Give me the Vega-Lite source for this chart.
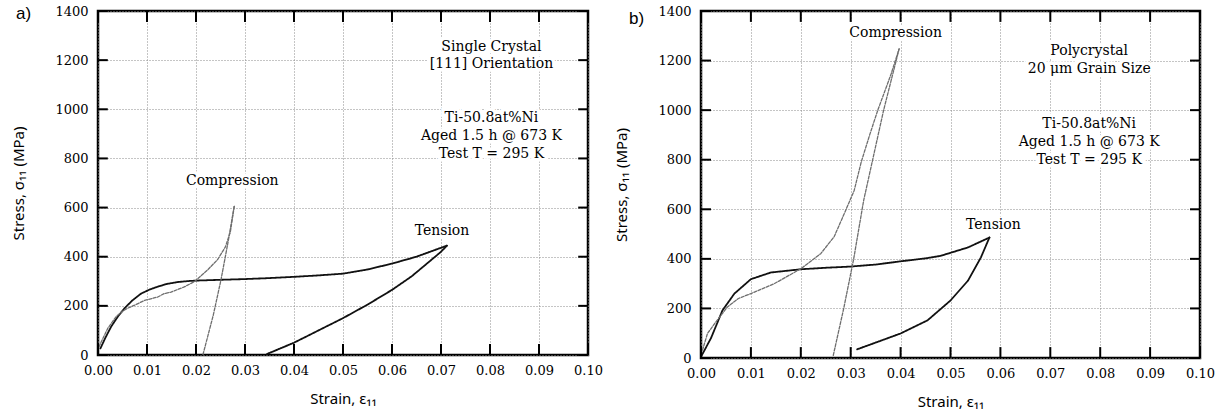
{
  "$schema": "https://vega.github.io/schema/vega-lite/v6.json",
  "background": "white",
  "padding": {"left": 10, "top": 3, "right": 0, "bottom": 0},
  "bounds": "flush",
  "spacing": 113,
  "config": {
    "view": {"stroke": "black", "strokeWidth": 2.5},
    "axis": {
      "labelFont": "DejaVu Serif", "labelFontSize": 13, "labelColor": "black", "labelFlush": false,
      "titleFont": "Noto Sans", "titleFontSize": 15, "titleFontWeight": "normal", "titleColor": "black",
      "ticks": false, "domain": false,
      "gridColor": "#8a8a8a", "gridDash": [1, 2], "gridWidth": 1, "gridOpacity": 1
    },
    "text": {"font": "DejaVu Serif", "fontSize": 14, "color": "black"},
    "rule": {"color": "black", "strokeWidth": 2}
  },
  "datasets": {
    "xticks": [{"v": 0}, {"v": 0.01}, {"v": 0.02}, {"v": 0.03}, {"v": 0.04}, {"v": 0.05}, {"v": 0.06}, {"v": 0.07}, {"v": 0.08}, {"v": 0.09}, {"v": 0.1}],
    "yticks": [{"v": 0}, {"v": 200}, {"v": 400}, {"v": 600}, {"v": 800}, {"v": 1000}, {"v": 1200}, {"v": 1400}],
    "curves": [
      {"panel": "a", "test": "Tension", "seg": "a-T-load", "i": 1, "strain": 0.0005, "stress": 27},
      {"panel": "a", "test": "Tension", "seg": "a-T-load", "i": 2, "strain": 0.0015, "stress": 70},
      {"panel": "a", "test": "Tension", "seg": "a-T-load", "i": 3, "strain": 0.0027, "stress": 116},
      {"panel": "a", "test": "Tension", "seg": "a-T-load", "i": 4, "strain": 0.004, "stress": 155},
      {"panel": "a", "test": "Tension", "seg": "a-T-load", "i": 5, "strain": 0.0054, "stress": 190},
      {"panel": "a", "test": "Tension", "seg": "a-T-load", "i": 6, "strain": 0.007, "stress": 222},
      {"panel": "a", "test": "Tension", "seg": "a-T-load", "i": 7, "strain": 0.0088, "stress": 250},
      {"panel": "a", "test": "Tension", "seg": "a-T-load", "i": 8, "strain": 0.0105, "stress": 266},
      {"panel": "a", "test": "Tension", "seg": "a-T-load", "i": 9, "strain": 0.0122, "stress": 278},
      {"panel": "a", "test": "Tension", "seg": "a-T-load", "i": 10, "strain": 0.014, "stress": 289},
      {"panel": "a", "test": "Tension", "seg": "a-T-load", "i": 11, "strain": 0.0163, "stress": 297},
      {"panel": "a", "test": "Tension", "seg": "a-T-load", "i": 12, "strain": 0.0185, "stress": 301},
      {"panel": "a", "test": "Tension", "seg": "a-T-load", "i": 13, "strain": 0.0203, "stress": 303},
      {"panel": "a", "test": "Tension", "seg": "a-T-load", "i": 14, "strain": 0.025, "stress": 306},
      {"panel": "a", "test": "Tension", "seg": "a-T-load", "i": 15, "strain": 0.03, "stress": 309},
      {"panel": "a", "test": "Tension", "seg": "a-T-load", "i": 16, "strain": 0.035, "stress": 313},
      {"panel": "a", "test": "Tension", "seg": "a-T-load", "i": 17, "strain": 0.04, "stress": 318},
      {"panel": "a", "test": "Tension", "seg": "a-T-load", "i": 18, "strain": 0.045, "stress": 324},
      {"panel": "a", "test": "Tension", "seg": "a-T-load", "i": 19, "strain": 0.05, "stress": 331},
      {"panel": "a", "test": "Tension", "seg": "a-T-load", "i": 20, "strain": 0.055, "stress": 348},
      {"panel": "a", "test": "Tension", "seg": "a-T-load", "i": 21, "strain": 0.06, "stress": 372},
      {"panel": "a", "test": "Tension", "seg": "a-T-load", "i": 22, "strain": 0.065, "stress": 400},
      {"panel": "a", "test": "Tension", "seg": "a-T-load", "i": 23, "strain": 0.0712, "stress": 445},
      {"panel": "a", "test": "Tension", "seg": "a-T-unload", "i": 1, "strain": 0.0712, "stress": 445},
      {"panel": "a", "test": "Tension", "seg": "a-T-unload", "i": 2, "strain": 0.07, "stress": 420},
      {"panel": "a", "test": "Tension", "seg": "a-T-unload", "i": 3, "strain": 0.067, "stress": 370},
      {"panel": "a", "test": "Tension", "seg": "a-T-unload", "i": 4, "strain": 0.064, "stress": 320},
      {"panel": "a", "test": "Tension", "seg": "a-T-unload", "i": 5, "strain": 0.06, "stress": 265},
      {"panel": "a", "test": "Tension", "seg": "a-T-unload", "i": 6, "strain": 0.055, "stress": 205},
      {"panel": "a", "test": "Tension", "seg": "a-T-unload", "i": 7, "strain": 0.05, "stress": 150},
      {"panel": "a", "test": "Tension", "seg": "a-T-unload", "i": 8, "strain": 0.045, "stress": 100},
      {"panel": "a", "test": "Tension", "seg": "a-T-unload", "i": 9, "strain": 0.04, "stress": 50},
      {"panel": "a", "test": "Tension", "seg": "a-T-unload", "i": 10, "strain": 0.0345, "stress": 4},
      {"panel": "a", "test": "Compression", "seg": "a-C-load", "i": 1, "strain": 0.0002, "stress": 34},
      {"panel": "a", "test": "Compression", "seg": "a-C-load", "i": 2, "strain": 0.002, "stress": 109},
      {"panel": "a", "test": "Compression", "seg": "a-C-load", "i": 3, "strain": 0.0037, "stress": 156},
      {"panel": "a", "test": "Compression", "seg": "a-C-load", "i": 4, "strain": 0.005, "stress": 178},
      {"panel": "a", "test": "Compression", "seg": "a-C-load", "i": 5, "strain": 0.006, "stress": 190},
      {"panel": "a", "test": "Compression", "seg": "a-C-load", "i": 6, "strain": 0.0075, "stress": 203},
      {"panel": "a", "test": "Compression", "seg": "a-C-load", "i": 7, "strain": 0.0095, "stress": 222},
      {"panel": "a", "test": "Compression", "seg": "a-C-load", "i": 8, "strain": 0.0122, "stress": 236},
      {"panel": "a", "test": "Compression", "seg": "a-C-load", "i": 9, "strain": 0.0135, "stress": 250},
      {"panel": "a", "test": "Compression", "seg": "a-C-load", "i": 10, "strain": 0.0149, "stress": 256},
      {"panel": "a", "test": "Compression", "seg": "a-C-load", "i": 11, "strain": 0.0176, "stress": 277},
      {"panel": "a", "test": "Compression", "seg": "a-C-load", "i": 12, "strain": 0.0197, "stress": 299},
      {"panel": "a", "test": "Compression", "seg": "a-C-load", "i": 13, "strain": 0.0224, "stress": 347},
      {"panel": "a", "test": "Compression", "seg": "a-C-load", "i": 14, "strain": 0.0244, "stress": 388},
      {"panel": "a", "test": "Compression", "seg": "a-C-load", "i": 15, "strain": 0.026, "stress": 440},
      {"panel": "a", "test": "Compression", "seg": "a-C-load", "i": 16, "strain": 0.027, "stress": 500},
      {"panel": "a", "test": "Compression", "seg": "a-C-load", "i": 17, "strain": 0.0278, "stress": 605},
      {"panel": "a", "test": "Compression", "seg": "a-C-unload", "i": 1, "strain": 0.0278, "stress": 605},
      {"panel": "a", "test": "Compression", "seg": "a-C-unload", "i": 2, "strain": 0.0265, "stress": 455},
      {"panel": "a", "test": "Compression", "seg": "a-C-unload", "i": 3, "strain": 0.0251, "stress": 306},
      {"panel": "a", "test": "Compression", "seg": "a-C-unload", "i": 4, "strain": 0.0235, "stress": 160},
      {"panel": "a", "test": "Compression", "seg": "a-C-unload", "i": 5, "strain": 0.0214, "stress": 0},
      {"panel": "b", "test": "Tension", "seg": "b-T-load", "i": 1, "strain": 0.0, "stress": 5},
      {"panel": "b", "test": "Tension", "seg": "b-T-load", "i": 2, "strain": 0.002, "stress": 80},
      {"panel": "b", "test": "Tension", "seg": "b-T-load", "i": 3, "strain": 0.0043, "stress": 192},
      {"panel": "b", "test": "Tension", "seg": "b-T-load", "i": 4, "strain": 0.0067, "stress": 260},
      {"panel": "b", "test": "Tension", "seg": "b-T-load", "i": 5, "strain": 0.01, "stress": 318},
      {"panel": "b", "test": "Tension", "seg": "b-T-load", "i": 6, "strain": 0.014, "stress": 345},
      {"panel": "b", "test": "Tension", "seg": "b-T-load", "i": 7, "strain": 0.02, "stress": 358},
      {"panel": "b", "test": "Tension", "seg": "b-T-load", "i": 8, "strain": 0.025, "stress": 364},
      {"panel": "b", "test": "Tension", "seg": "b-T-load", "i": 9, "strain": 0.03, "stress": 369},
      {"panel": "b", "test": "Tension", "seg": "b-T-load", "i": 10, "strain": 0.035, "stress": 377},
      {"panel": "b", "test": "Tension", "seg": "b-T-load", "i": 11, "strain": 0.04, "stress": 390},
      {"panel": "b", "test": "Tension", "seg": "b-T-load", "i": 12, "strain": 0.045, "stress": 402},
      {"panel": "b", "test": "Tension", "seg": "b-T-load", "i": 13, "strain": 0.048, "stress": 412},
      {"panel": "b", "test": "Tension", "seg": "b-T-load", "i": 14, "strain": 0.0535, "stress": 446},
      {"panel": "b", "test": "Tension", "seg": "b-T-load", "i": 15, "strain": 0.0578, "stress": 486},
      {"panel": "b", "test": "Tension", "seg": "b-T-unload", "i": 1, "strain": 0.0578, "stress": 486},
      {"panel": "b", "test": "Tension", "seg": "b-T-unload", "i": 2, "strain": 0.0561, "stress": 406},
      {"panel": "b", "test": "Tension", "seg": "b-T-unload", "i": 3, "strain": 0.0535, "stress": 312},
      {"panel": "b", "test": "Tension", "seg": "b-T-unload", "i": 4, "strain": 0.05, "stress": 232},
      {"panel": "b", "test": "Tension", "seg": "b-T-unload", "i": 5, "strain": 0.0454, "stress": 152},
      {"panel": "b", "test": "Tension", "seg": "b-T-unload", "i": 6, "strain": 0.04, "stress": 99},
      {"panel": "b", "test": "Tension", "seg": "b-T-unload", "i": 7, "strain": 0.0354, "stress": 65},
      {"panel": "b", "test": "Tension", "seg": "b-T-unload", "i": 8, "strain": 0.0313, "stress": 35},
      {"panel": "b", "test": "Compression", "seg": "b-C-load", "i": 1, "strain": 0.0003, "stress": 32},
      {"panel": "b", "test": "Compression", "seg": "b-C-load", "i": 2, "strain": 0.0013, "stress": 99},
      {"panel": "b", "test": "Compression", "seg": "b-C-load", "i": 3, "strain": 0.003, "stress": 146},
      {"panel": "b", "test": "Compression", "seg": "b-C-load", "i": 4, "strain": 0.0053, "stress": 206},
      {"panel": "b", "test": "Compression", "seg": "b-C-load", "i": 5, "strain": 0.0075, "stress": 240},
      {"panel": "b", "test": "Compression", "seg": "b-C-load", "i": 6, "strain": 0.01, "stress": 260},
      {"panel": "b", "test": "Compression", "seg": "b-C-load", "i": 7, "strain": 0.0147, "stress": 300},
      {"panel": "b", "test": "Compression", "seg": "b-C-load", "i": 8, "strain": 0.02, "stress": 360},
      {"panel": "b", "test": "Compression", "seg": "b-C-load", "i": 9, "strain": 0.024, "stress": 421},
      {"panel": "b", "test": "Compression", "seg": "b-C-load", "i": 10, "strain": 0.0267, "stress": 490},
      {"panel": "b", "test": "Compression", "seg": "b-C-load", "i": 11, "strain": 0.0287, "stress": 582},
      {"panel": "b", "test": "Compression", "seg": "b-C-load", "i": 12, "strain": 0.0307, "stress": 676},
      {"panel": "b", "test": "Compression", "seg": "b-C-load", "i": 13, "strain": 0.0321, "stress": 790},
      {"panel": "b", "test": "Compression", "seg": "b-C-load", "i": 14, "strain": 0.0338, "stress": 900},
      {"panel": "b", "test": "Compression", "seg": "b-C-load", "i": 15, "strain": 0.0354, "stress": 998},
      {"panel": "b", "test": "Compression", "seg": "b-C-load", "i": 16, "strain": 0.0381, "stress": 1146},
      {"panel": "b", "test": "Compression", "seg": "b-C-load", "i": 17, "strain": 0.0397, "stress": 1247},
      {"panel": "b", "test": "Compression", "seg": "b-C-unload", "i": 1, "strain": 0.0397, "stress": 1247},
      {"panel": "b", "test": "Compression", "seg": "b-C-unload", "i": 2, "strain": 0.0366, "stress": 1000},
      {"panel": "b", "test": "Compression", "seg": "b-C-unload", "i": 3, "strain": 0.0326, "stress": 636},
      {"panel": "b", "test": "Compression", "seg": "b-C-unload", "i": 4, "strain": 0.0306, "stress": 400},
      {"panel": "b", "test": "Compression", "seg": "b-C-unload", "i": 5, "strain": 0.0286, "stress": 200},
      {"panel": "b", "test": "Compression", "seg": "b-C-unload", "i": 6, "strain": 0.0265, "stress": 10}
    ],
    "notes": [
      {"panel": "a", "kind": "note", "strain": 0.0803, "stress": 1254, "text": "Single Crystal"},
      {"panel": "a", "kind": "note", "strain": 0.0803, "stress": 1186, "text": "[111] Orientation"},
      {"panel": "a", "kind": "note", "strain": 0.0803, "stress": 966, "text": "Ti-50.8at%Ni"},
      {"panel": "a", "kind": "note", "strain": 0.0803, "stress": 891, "text": "Aged 1.5 h @ 673 K"},
      {"panel": "a", "kind": "note", "strain": 0.0803, "stress": 820, "text": "Test T = 295 K"},
      {"panel": "a", "kind": "note", "strain": 0.0274, "stress": 707, "text": "Compression"},
      {"panel": "a", "kind": "note", "strain": 0.0702, "stress": 506, "text": "Tension"},
      {"panel": "a", "kind": "label", "strain": -0.0152, "stress": 1388, "text": "a)"},
      {"panel": "b", "kind": "note", "strain": 0.039, "stress": 1310, "text": "Compression"},
      {"panel": "b", "kind": "note", "strain": 0.0778, "stress": 1239, "text": "Polycrystal"},
      {"panel": "b", "kind": "note", "strain": 0.0778, "stress": 1165, "text": "20 μm Grain Size"},
      {"panel": "b", "kind": "note", "strain": 0.0778, "stress": 946, "text": "Ti-50.8at%Ni"},
      {"panel": "b", "kind": "note", "strain": 0.0778, "stress": 872, "text": "Aged 1.5 h @ 673 K"},
      {"panel": "b", "kind": "note", "strain": 0.0778, "stress": 800, "text": "Test T = 295 K"},
      {"panel": "b", "kind": "note", "strain": 0.0586, "stress": 536, "text": "Tension"},
      {"panel": "b", "kind": "label", "strain": -0.0129, "stress": 1367, "text": "b)"}
    ]
  },
  "hconcat": [
    {
      "width": 490,
      "height": 344,
      "resolve": {"axis": {"x": "independent", "y": "independent"}},
      "layer": [
        {
          "data": {"name": "curves"},
          "transform": [{"filter": "datum.panel == 'a'"}],
          "mark": {"type": "line", "strokeCap": "round", "strokeJoin": "round"},
          "encoding": {
            "x": {"field": "strain", "type": "quantitative", "scale": {"domain": [0, 0.1], "nice": false, "zero": false},
              "axis": {"orient": "bottom", "values": [0, 0.01, 0.02, 0.03, 0.04, 0.05, 0.06, 0.07, 0.08, 0.09, 0.1], "format": ".2f", "title": "Strain, ε₁₁", "grid": true, "labelPadding": 9, "titlePadding": 14}},
            "y": {"field": "stress", "type": "quantitative", "scale": {"domain": [0, 1400], "nice": false},
              "axis": {"orient": "left", "values": [0, 200, 400, 600, 800, 1000, 1200, 1400], "format": "d", "title": "Stress, σ₁₁ (MPa)", "grid": true, "labelPadding": 10, "titlePadding": 28}},
            "detail": {"field": "seg", "type": "nominal"},
            "order": {"field": "i", "type": "quantitative"},
            "color": {"field": "test", "type": "nominal", "scale": {"domain": ["Tension", "Compression"], "range": ["#111111", "#6e6e6e"]}, "legend": null},
            "strokeDash": {"field": "test", "type": "nominal", "scale": {"domain": ["Tension", "Compression"], "range": [[1, 0], [3, 1.5]]}, "legend": null},
            "strokeWidth": {"field": "test", "type": "nominal", "scale": {"domain": ["Tension", "Compression"], "range": [1.8, 1.3]}, "legend": null}
          }
        },
        {
          "data": {"name": "xticks"},
          "mark": {"type": "rule"},
          "encoding": {
            "x": {"field": "v", "type": "quantitative", "scale": {"domain": [0, 0.1], "nice": false, "zero": false}, "axis": null},
            "y": {"datum": 0, "type": "quantitative", "scale": {"domain": [0, 1400], "nice": false}, "axis": null},
            "y2": {"datum": 45}
          }
        },
        {
          "data": {"name": "xticks"},
          "mark": {"type": "rule"},
          "encoding": {
            "x": {"field": "v", "type": "quantitative", "scale": {"domain": [0, 0.1], "nice": false, "zero": false}, "axis": null},
            "y": {"datum": 1400, "type": "quantitative", "scale": {"domain": [0, 1400], "nice": false}, "axis": null},
            "y2": {"datum": 1355}
          }
        },
        {
          "data": {"name": "yticks"},
          "mark": {"type": "rule"},
          "encoding": {
            "y": {"field": "v", "type": "quantitative", "scale": {"domain": [0, 1400], "nice": false}, "axis": null},
            "x": {"datum": 0, "type": "quantitative", "scale": {"domain": [0, 0.1], "nice": false, "zero": false}, "axis": null},
            "x2": {"datum": 0.002}
          }
        },
        {
          "data": {"name": "yticks"},
          "mark": {"type": "rule"},
          "encoding": {
            "y": {"field": "v", "type": "quantitative", "scale": {"domain": [0, 1400], "nice": false}, "axis": null},
            "x": {"datum": 0.1, "type": "quantitative", "scale": {"domain": [0, 0.1], "nice": false, "zero": false}, "axis": null},
            "x2": {"datum": 0.098}
          }
        },
        {
          "data": {"name": "notes"},
          "transform": [{"filter": "datum.panel == 'a' && datum.kind == 'note'"}],
          "mark": {"type": "text", "align": "center", "baseline": "middle", "stroke": "white", "strokeWidth": 7, "color": "white"},
          "encoding": {
            "x": {"field": "strain", "type": "quantitative", "scale": {"domain": [0, 0.1], "nice": false, "zero": false}, "axis": null},
            "y": {"field": "stress", "type": "quantitative", "scale": {"domain": [0, 1400], "nice": false}, "axis": null},
            "text": {"field": "text"}
          }
        },
        {
          "data": {"name": "notes"},
          "transform": [{"filter": "datum.panel == 'a' && datum.kind == 'note'"}],
          "mark": {"type": "text", "align": "center", "baseline": "middle", "color": "black"},
          "encoding": {
            "x": {"field": "strain", "type": "quantitative", "scale": {"domain": [0, 0.1], "nice": false, "zero": false}, "axis": null},
            "y": {"field": "stress", "type": "quantitative", "scale": {"domain": [0, 1400], "nice": false}, "axis": null},
            "text": {"field": "text"}
          }
        },
        {
          "data": {"name": "notes"},
          "transform": [{"filter": "datum.panel == 'a' && datum.kind == 'label'"}],
          "mark": {"type": "text", "align": "center", "baseline": "middle", "font": "Liberation Sans", "fontSize": 17, "color": "black"},
          "encoding": {
            "x": {"field": "strain", "type": "quantitative", "scale": {"domain": [0, 0.1], "nice": false, "zero": false}, "axis": null},
            "y": {"field": "stress", "type": "quantitative", "scale": {"domain": [0, 1400], "nice": false}, "axis": null},
            "text": {"field": "text"}
          }
        }
      ]
    },
    {
      "width": 499,
      "height": 347,
      "resolve": {"axis": {"x": "independent", "y": "independent"}},
      "layer": [
        {
          "data": {"name": "curves"},
          "transform": [{"filter": "datum.panel == 'b'"}],
          "mark": {"type": "line", "strokeCap": "round", "strokeJoin": "round"},
          "encoding": {
            "x": {"field": "strain", "type": "quantitative", "scale": {"domain": [0, 0.1], "nice": false, "zero": false},
              "axis": {"orient": "bottom", "values": [0, 0.01, 0.02, 0.03, 0.04, 0.05, 0.06, 0.07, 0.08, 0.09, 0.1], "format": ".2f", "title": "Strain, ε₁₁", "grid": true, "labelPadding": 9, "titlePadding": 14}},
            "y": {"field": "stress", "type": "quantitative", "scale": {"domain": [0, 1400], "nice": false},
              "axis": {"orient": "left", "values": [0, 200, 400, 600, 800, 1000, 1200, 1400], "format": "d", "title": "Stress, σ₁₁ (MPa)", "grid": true, "labelPadding": 10, "titlePadding": 28}},
            "detail": {"field": "seg", "type": "nominal"},
            "order": {"field": "i", "type": "quantitative"},
            "color": {"field": "test", "type": "nominal", "scale": {"domain": ["Tension", "Compression"], "range": ["#111111", "#6e6e6e"]}, "legend": null},
            "strokeDash": {"field": "test", "type": "nominal", "scale": {"domain": ["Tension", "Compression"], "range": [[1, 0], [3, 1.5]]}, "legend": null},
            "strokeWidth": {"field": "test", "type": "nominal", "scale": {"domain": ["Tension", "Compression"], "range": [1.8, 1.3]}, "legend": null}
          }
        },
        {
          "data": {"name": "xticks"},
          "mark": {"type": "rule"},
          "encoding": {
            "x": {"field": "v", "type": "quantitative", "scale": {"domain": [0, 0.1], "nice": false, "zero": false}, "axis": null},
            "y": {"datum": 0, "type": "quantitative", "scale": {"domain": [0, 1400], "nice": false}, "axis": null},
            "y2": {"datum": 44}
          }
        },
        {
          "data": {"name": "xticks"},
          "mark": {"type": "rule"},
          "encoding": {
            "x": {"field": "v", "type": "quantitative", "scale": {"domain": [0, 0.1], "nice": false, "zero": false}, "axis": null},
            "y": {"datum": 1400, "type": "quantitative", "scale": {"domain": [0, 1400], "nice": false}, "axis": null},
            "y2": {"datum": 1356}
          }
        },
        {
          "data": {"name": "yticks"},
          "mark": {"type": "rule"},
          "encoding": {
            "y": {"field": "v", "type": "quantitative", "scale": {"domain": [0, 1400], "nice": false}, "axis": null},
            "x": {"datum": 0, "type": "quantitative", "scale": {"domain": [0, 0.1], "nice": false, "zero": false}, "axis": null},
            "x2": {"datum": 0.002}
          }
        },
        {
          "data": {"name": "yticks"},
          "mark": {"type": "rule"},
          "encoding": {
            "y": {"field": "v", "type": "quantitative", "scale": {"domain": [0, 1400], "nice": false}, "axis": null},
            "x": {"datum": 0.1, "type": "quantitative", "scale": {"domain": [0, 0.1], "nice": false, "zero": false}, "axis": null},
            "x2": {"datum": 0.098}
          }
        },
        {
          "data": {"name": "notes"},
          "transform": [{"filter": "datum.panel == 'b' && datum.kind == 'note'"}],
          "mark": {"type": "text", "align": "center", "baseline": "middle", "stroke": "white", "strokeWidth": 7, "color": "white"},
          "encoding": {
            "x": {"field": "strain", "type": "quantitative", "scale": {"domain": [0, 0.1], "nice": false, "zero": false}, "axis": null},
            "y": {"field": "stress", "type": "quantitative", "scale": {"domain": [0, 1400], "nice": false}, "axis": null},
            "text": {"field": "text"}
          }
        },
        {
          "data": {"name": "notes"},
          "transform": [{"filter": "datum.panel == 'b' && datum.kind == 'note'"}],
          "mark": {"type": "text", "align": "center", "baseline": "middle", "color": "black"},
          "encoding": {
            "x": {"field": "strain", "type": "quantitative", "scale": {"domain": [0, 0.1], "nice": false, "zero": false}, "axis": null},
            "y": {"field": "stress", "type": "quantitative", "scale": {"domain": [0, 1400], "nice": false}, "axis": null},
            "text": {"field": "text"}
          }
        },
        {
          "data": {"name": "notes"},
          "transform": [{"filter": "datum.panel == 'b' && datum.kind == 'label'"}],
          "mark": {"type": "text", "align": "center", "baseline": "middle", "font": "Liberation Sans", "fontSize": 17, "color": "black"},
          "encoding": {
            "x": {"field": "strain", "type": "quantitative", "scale": {"domain": [0, 0.1], "nice": false, "zero": false}, "axis": null},
            "y": {"field": "stress", "type": "quantitative", "scale": {"domain": [0, 1400], "nice": false}, "axis": null},
            "text": {"field": "text"}
          }
        }
      ]
    }
  ]
}
